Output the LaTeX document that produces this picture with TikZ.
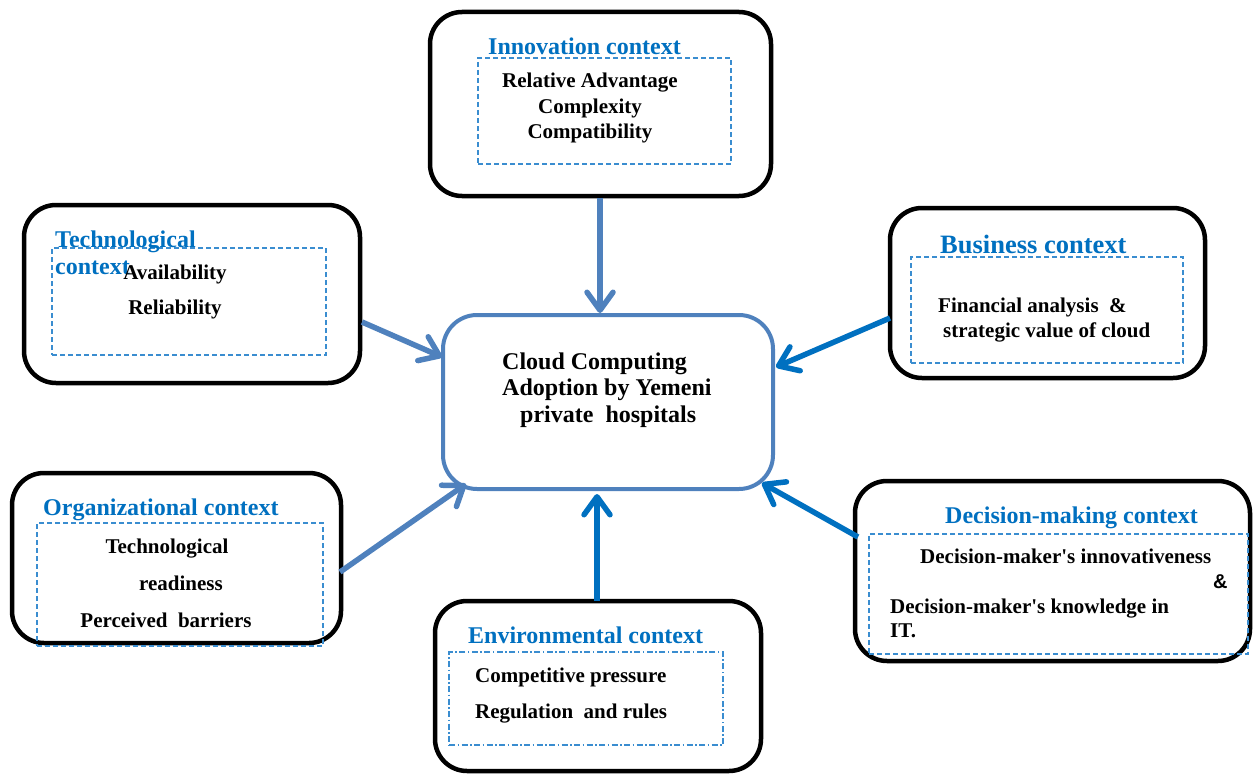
\documentclass[tikz,border=0pt]{standalone}
\usepackage{fontspec}
\setmainfont{Liberation Serif}[Ligatures=TeXOff]
\newfontfamily\ampfont{Liberation Sans}
\usetikzlibrary{arrows.meta}
\definecolor{steel}{HTML}{4F81BD}
\definecolor{bright}{HTML}{0070C0}
\definecolor{dashblue}{HTML}{3A8DD0}
\tikzset{
  outerbox/.style={draw=black, line width=4.5pt, rounded corners=32pt, fill=white, inner sep=0pt},
  centerbox/.style={draw=steel, line width=4pt, rounded corners=34pt, fill=white, inner sep=0pt},
  innerbox/.style={draw=dashblue, line width=1.3pt, dash pattern=on 5pt off 3pt, inner sep=0pt},
  innerdd/.style={draw=dashblue, line width=1.3pt, dash pattern=on 6pt off 2.5pt on 1.5pt off 2.5pt, inner sep=0pt},
  ttl/.style={text=bright, font=\bfseries\fontsize{24}{27}\selectfont, inner sep=0pt},
  bigttl/.style={text=bright, font=\bfseries\fontsize{26.5}{30}\selectfont, inner sep=0pt},
  body/.style={text=black, font=\bfseries\fontsize{21}{25}\selectfont, inner sep=0pt},
  ctext/.style={text=black, font=\bfseries\fontsize{24}{27}\selectfont, inner sep=0pt},
  conn/.style={line width=5.5pt, -{Straight Barb[length=18pt,width=26pt,round]}},
}
\begin{document}
\begin{tikzpicture}[x=1pt,y=-1pt]
\useasboundingbox (0,0) rectangle (1253,776);
% outer boxes
\node[outerbox, minimum width=341pt, minimum height=184pt] (innov) at (600.5,104) {};
\node[outerbox, minimum width=336pt, minimum height=178pt] (tech) at (192,294) {};
\node[outerbox, minimum width=315pt, minimum height=170pt] (bus) at (1047.5,293) {};
\node[outerbox, minimum width=329pt, minimum height=170pt] (org) at (176.5,558) {};
\node[outerbox, minimum width=326pt, minimum height=170pt] (env) at (598,686) {};
\node[outerbox, minimum width=395pt, minimum height=180pt] (dec) at (1052.5,571) {};
\node[centerbox, minimum width=330pt, minimum height=174pt] (core) at (608,402) {};
% inner boxes
\node[innerbox, minimum width=253pt, minimum height=106pt] (innovin) at (604.5,111) {};
\node[innerbox, minimum width=274pt, minimum height=107pt] (techin) at (189,301.5) {};
\node[innerbox, minimum width=272pt, minimum height=106pt] (busin) at (1047,310) {};
\node[innerbox, minimum width=286pt, minimum height=123pt] (orgin) at (180,584.5) {};
\node[innerdd, minimum width=274pt, minimum height=93pt] (envin) at (586,698.5) {};
\node[innerbox, minimum width=379pt, minimum height=120pt] (decin) at (1058.5,594) {};
% innovation texts
\node[ttl, anchor=base west] (t1) at (488,55) {Innovation context};
\node[body, anchor=base] (t1a) at (590,88) {Relative Advantage};
\node[body, anchor=base] (t1b) at (590,113) {Complexity};
\node[body, anchor=base] (t1c) at (590,138) {Compatibility};
% technological texts
\node[ttl, anchor=base west] (t2) at (55,247) {Technological};
\node[ttl, anchor=base west] (t2x) at (55,274) {context};
\node[body, anchor=base] (t2a) at (175,279) {Availability};
\node[body, anchor=base] (t2b) at (175,314) {Reliability};
% business texts
\node[bigttl, anchor=base west] (t3) at (940,253) {Business context};
\node[body, anchor=base west] (t3a) at (938,312) {Financial analysis~ \&};
\node[body, anchor=base west] (t3b) at (943,337) {strategic value of cloud};
% organizational texts
\node[ttl, anchor=base west] (t4) at (43,515) {Organizational context};
\node[body, anchor=base] (t4a) at (167,553) {Technological};
\node[body, anchor=base] (t4b) at (181,590) {readiness};
\node[body, anchor=base] (t4c) at (166,627) {Perceived~ barriers};
% environmental texts
\node[ttl, anchor=base west] (t5) at (468,643) {Environmental context};
\node[body, anchor=base west] (t5a) at (475,682) {Competitive pressure};
\node[body, anchor=base west] (t5b) at (475,718) {Regulation~ and rules};
% decision texts
\node[ttl, anchor=base west] (t6) at (945,523) {Decision-making context};
\node[body, anchor=base west] (t6a) at (920,563) {Decision-maker's innovativeness};
\node[body, anchor=base west, font=\ampfont\bfseries\fontsize{20}{24}\selectfont] (t6b) at (1213,588) {\&};
\node[body, anchor=base west] (t6c) at (890,613) {Decision-maker's knowledge in};
\node[body, anchor=base west] (t6d) at (890,637) {IT.};
% center texts
\node[ctext, anchor=base west] (c1) at (502,369) {Cloud Computing};
\node[ctext, anchor=base west] (c2) at (502,395) {Adoption by Yemeni};
\node[ctext, anchor=base west] (c3) at (520,422) {private~ hospitals};
% connector ends
\coordinate (innovS) at (600,198);
\coordinate (coreN) at (600,313);
\coordinate (techE) at (362,322);
\coordinate (coreW) at (442,357);
\coordinate (busW) at (890,318);
\coordinate (coreE) at (776,367);
\coordinate (orgE) at (340,572);
\coordinate (coreSW) at (466,484);
\coordinate (envN) at (597,601);
\coordinate (coreS) at (597,494);
\coordinate (decW) at (858,537);
\coordinate (coreSE) at (762,483);
% connectors
\draw[conn, steel] (innovS) -- (coreN);
\draw[conn, steel] (techE) -- (coreW);
\draw[conn, bright] (busW) -- (coreE);
\draw[conn, steel] (orgE) -- (coreSW);
\draw[conn, bright] (envN) -- (coreS);
\draw[conn, bright] (decW) -- (coreSE);
\end{tikzpicture}
\end{document}
